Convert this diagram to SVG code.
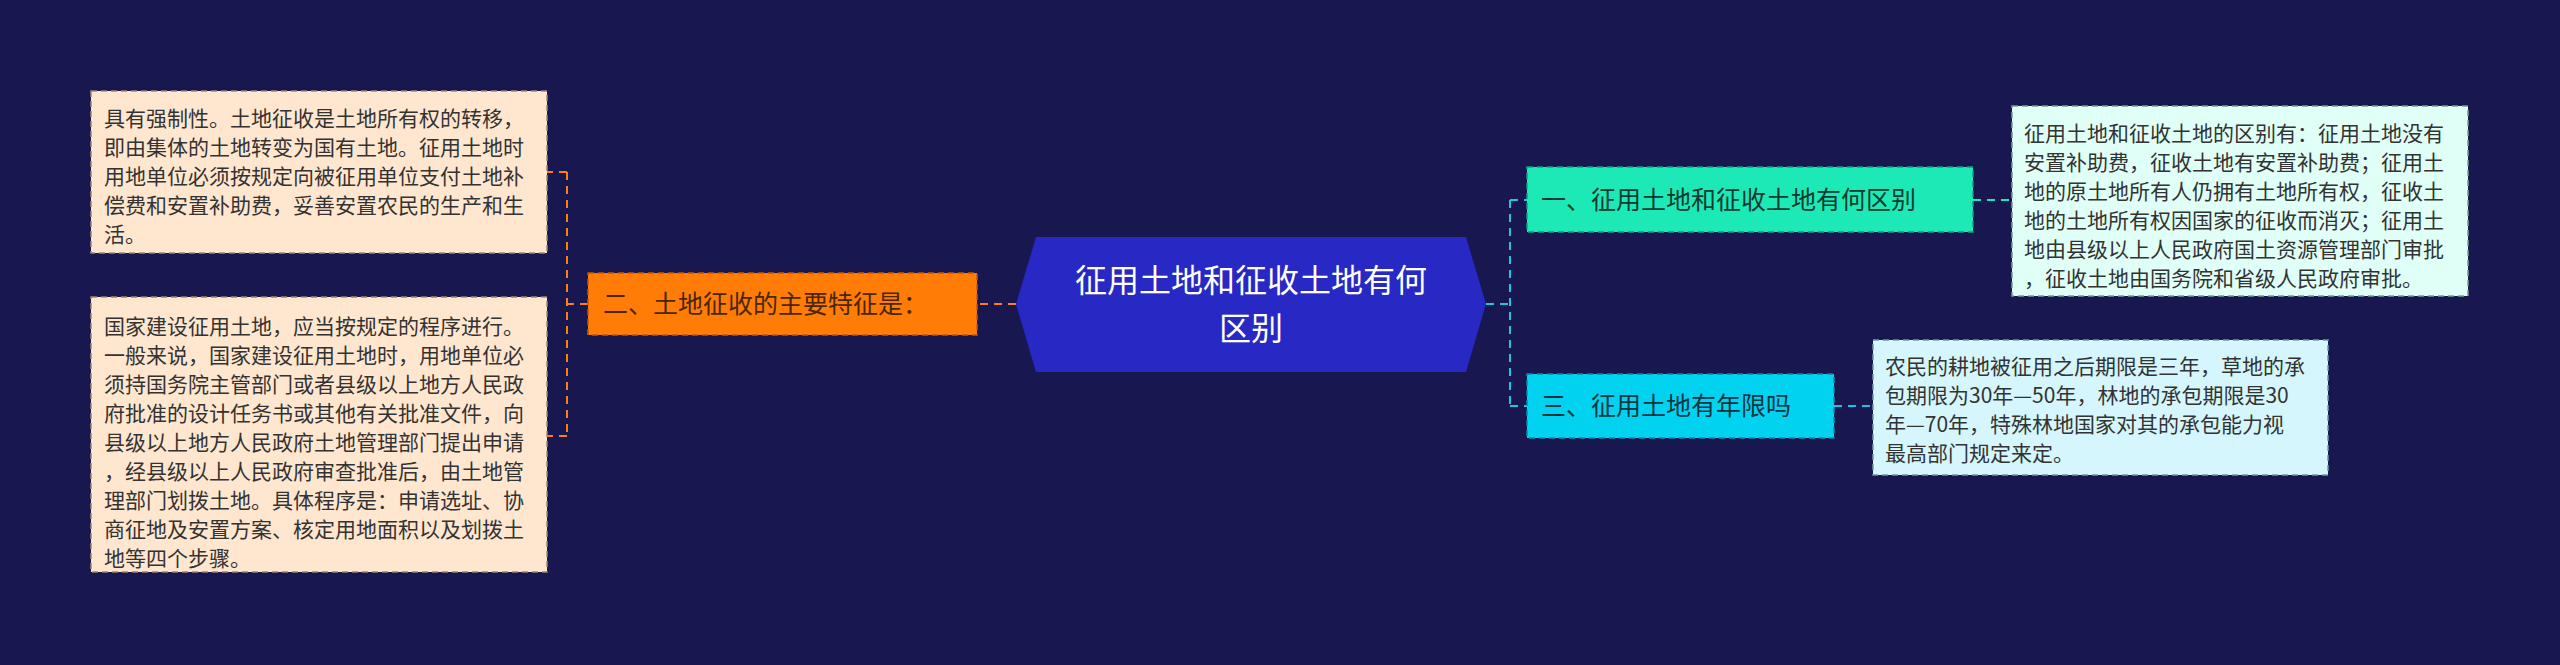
<svg xmlns="http://www.w3.org/2000/svg" width="2560" height="665" viewBox="0 0 2560 665">
<style>
text{font-family:"Noto Sans CJK SC","Liberation Sans",sans-serif}
.bt{font-size:21px;fill:#333}
.nt{font-size:25px}
.c{fill:none;stroke-width:2;stroke-dasharray:8,6}
</style>
<rect width="2560" height="665" fill="#181750"/>
<g id="connectors">
<path class="c" stroke="#ff7f0e" d="M1016,304H977M588,304H567M567,172V436M567,172H547M567,436H547"/>
<path class="c" stroke="#1fc8d8" d="M1486,304H1510M1510,200V406M1510,200H1527M1510,406H1527"/>
<path class="c" stroke="#1de9b6" d="M1973,200H2012"/>
<path class="c" stroke="#18c4e6" d="M1834,406H1873"/>
</g>
<g id="center">
<polygon points="1036,237 1466,237 1486,304 1466,372 1036,372 1016,304" fill="#2828c4"/>
<text x="1251" y="292" font-size="32" fill="#fff" text-anchor="middle">征用土地和征收土地有何</text>
<text x="1251" y="340" font-size="32" fill="#fff" text-anchor="middle">区别</text>
</g>
<g id="n2">
<rect x="588" y="273" width="389" height="62" fill="#ff7d06" stroke="#c25a00" stroke-dasharray="6,4" stroke-width="1.5"/>
<text class="nt" x="603" y="313" fill="#4a2500">二、土地征收的主要特征是：</text>
</g>
<g id="b1">
<rect x="91" y="91" width="456" height="162" fill="#ffe6cf" stroke="#a08870" stroke-dasharray="6,4" stroke-width="1.5"/>
<text class="bt"><tspan x="104" y="126">具有强制性。土地征收是土地所有权的转移，</tspan><tspan x="104" y="155">即由集体的土地转变为国有土地。征用土地时</tspan><tspan x="104" y="184">用地单位必须按规定向被征用单位支付土地补</tspan><tspan x="104" y="213">偿费和安置补助费，妥善安置农民的生产和生</tspan><tspan x="104" y="242">活。</tspan></text>
</g>
<g id="b2">
<rect x="91" y="297" width="456" height="275" fill="#ffe6cf" stroke="#a08870" stroke-dasharray="6,4" stroke-width="1.5"/>
<text class="bt"><tspan x="104" y="334">国家建设征用土地，应当按规定的程序进行。</tspan><tspan x="104" y="363">一般来说，国家建设征用土地时，用地单位必</tspan><tspan x="104" y="392">须持国务院主管部门或者县级以上地方人民政</tspan><tspan x="104" y="421">府批准的设计任务书或其他有关批准文件，向</tspan><tspan x="104" y="450">县级以上地方人民政府土地管理部门提出申请</tspan><tspan x="104" y="479">，经县级以上人民政府审查批准后，由土地管</tspan><tspan x="104" y="508">理部门划拨土地。具体程序是：申请选址、协</tspan><tspan x="104" y="537">商征地及安置方案、核定用地面积以及划拨土</tspan><tspan x="104" y="566">地等四个步骤。</tspan></text>
</g>
<g id="n1">
<rect x="1527" y="167" width="446" height="65" fill="#1de9b6" stroke="#10a080" stroke-dasharray="6,4" stroke-width="1.5"/>
<text class="nt" x="1541" y="209" fill="#0c3a30">一、征用土地和征收土地有何区别</text>
</g>
<g id="n3">
<rect x="1527" y="374" width="307" height="64" fill="#00d2f0" stroke="#0090a8" stroke-dasharray="6,4" stroke-width="1.5"/>
<text class="nt" x="1541" y="415" fill="#0a3440">三、征用土地有年限吗</text>
</g>
<g id="rb1">
<rect x="2012" y="106" width="456" height="190" fill="#e0fff7" stroke="#70a090" stroke-dasharray="6,4" stroke-width="1.5"/>
<text class="bt"><tspan x="2024" y="141">征用土地和征收土地的区别有：征用土地没有</tspan><tspan x="2024" y="170">安置补助费，征收土地有安置补助费；征用土</tspan><tspan x="2024" y="199">地的原土地所有人仍拥有土地所有权，征收土</tspan><tspan x="2024" y="228">地的土地所有权因国家的征收而消灭；征用土</tspan><tspan x="2024" y="257">地由县级以上人民政府国土资源管理部门审批</tspan><tspan x="2024" y="286">，征收土地由国务院和省级人民政府审批。</tspan></text>
</g>
<g id="rb3">
<rect x="1873" y="340" width="455" height="135" fill="#d4f6fc" stroke="#7098a8" stroke-dasharray="6,4" stroke-width="1.5"/>
<text class="bt"><tspan x="1885" y="374">农民的耕地被征用之后期限是三年，草地的承</tspan><tspan x="1885" y="403">包期限为30年—50年，林地的承包期限是30</tspan><tspan x="1885" y="432">年—70年，特殊林地国家对其的承包能力视</tspan><tspan x="1885" y="461">最高部门规定来定。</tspan></text>
</g>
</svg>
